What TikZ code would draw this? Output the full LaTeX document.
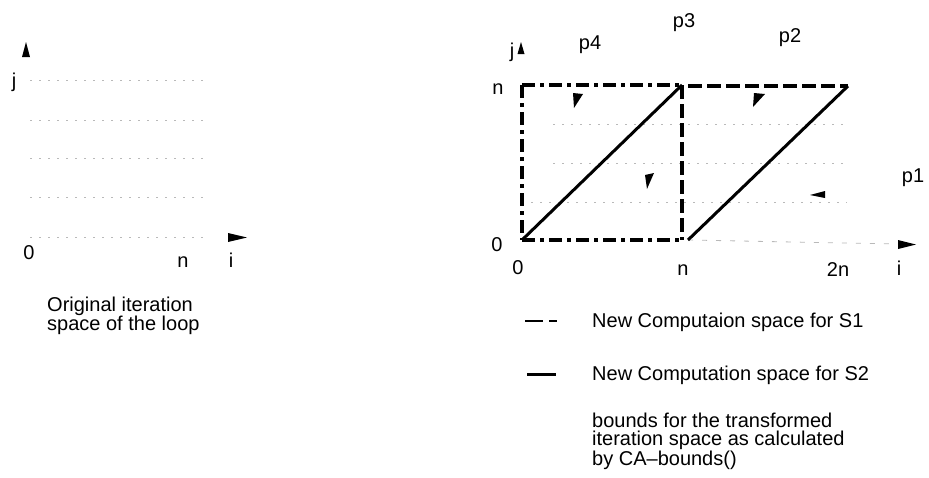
\documentclass[tikz,border=0pt]{standalone}
\usepackage{fontspec}
\setmainfont{Liberation Sans}
\begin{document}
\begin{tikzpicture}[x=1pt,y=-1pt,
  every node/.style={inner sep=0pt, font=\fontsize{20}{18.5}\selectfont},
  gridline/.style={gray!55, line width=0.8pt, dash pattern=on 2pt off 7pt},
  axisline/.style={gray!55, line width=0.8pt, dash pattern=on 5pt off 9pt},
  sone/.style={line width=3.2pt, dash pattern=on 13pt off 5pt on 4pt off 5pt},
  sonedash/.style={line width=3.2pt, dash pattern=on 14pt off 5pt},
  stwo/.style={line width=3pt},
  tri/.style={fill=black, draw=none}]
\useasboundingbox (0,0) rectangle (929,477);

% ---------------- left diagram ----------------
\foreach \yy in {80,120,158,197,237}
  \draw[gridline] (30,\yy) -- (205,\yy);
\fill[tri] (22,57) -- (26,42) -- (30,57) -- cycle;
\fill[tri] (228,233) -- (247,237.5) -- (228,242) -- cycle;
\node (lj) at (14,82) {j};
\node (l0) at (29,253) {0};
\node (ln) at (183,262) {n};
\node (li) at (231,260) {i};
\node[anchor=west, align=left] (lcap) at (47,316) {Original iteration\\space of the loop};

% ---------------- right diagram ----------------
\coordinate (O) at (522,240);
\coordinate (N0) at (682,240);
\coordinate (N0b) at (688,240);
\coordinate (ON) at (522,85);
\coordinate (NN) at (682,85);
\coordinate (NNb) at (688,86);
\coordinate (TN) at (848,86);
\coordinate (AxE) at (898,244);

\draw[gridline] (553,124) -- (847,124);
\draw[gridline] (553,163) -- (847,163);
\draw[gridline] (522,202) -- (847,202);
\draw[axisline] (N0b) -- (AxE);

\draw[sone] (ON) -- (NN);
\draw[sone] (O) -- (N0);
\draw[sone] (ON) -- (O);
\draw[sonedash] (NN) -- (N0);
\draw[sonedash] (NNb) -- (TN);

\draw[stwo] (O) -- (NN);
\draw[stwo] (N0b) -- (TN);

\fill[tri] (517.5,54) -- (521,42) -- (524.5,54) -- cycle;
\fill[tri] (898,240) -- (916,244.5) -- (898,249) -- cycle;
\fill[tri] (573,93) -- (583,94) -- (574,108) -- cycle;
\fill[tri] (754,93) -- (765,94) -- (753,107) -- cycle;
\fill[tri] (645,175) -- (654,173) -- (647,189) -- cycle;
\fill[tri] (810,195) -- (825,191) -- (825,198) -- cycle;

\node (rj) at (512,52) {j};
\node (rn) at (498,89) {n};
\node (r0) at (497,245) {0};
\node (p3) at (684,23) {p3};
\node (p4) at (590,45) {p4};
\node (p2) at (790,38) {p2};
\node (p1) at (913,178) {p1};
\node (b0) at (518,268) {0};
\node (bn) at (683,270) {n};
\node (b2n) at (838,270) {2n};
\node (bi) at (899,268) {i};

% ---------------- legend ----------------
\coordinate (d1a) at (525,321);
\coordinate (d1b) at (543,321);
\coordinate (d2a) at (549,321);
\coordinate (d2b) at (557,321);
\draw[line width=2.8pt] (d1a) -- (d1b);
\draw[line width=2.8pt] (d2a) -- (d2b);
\coordinate (s2a) at (527,374);
\coordinate (s2b) at (556,374);
\draw[stwo] (s2a) -- (s2b);
\node[anchor=west] (leg1) at (592,322) {New Computaion space for S1};
\node[anchor=west] (leg2) at (592,375) {New Computation space for S2};
\node[anchor=west, align=left] (leg3) at (592,441) {bounds for the transformed\\iteration space as calculated\\by CA--bounds()};
\end{tikzpicture}
\end{document}
